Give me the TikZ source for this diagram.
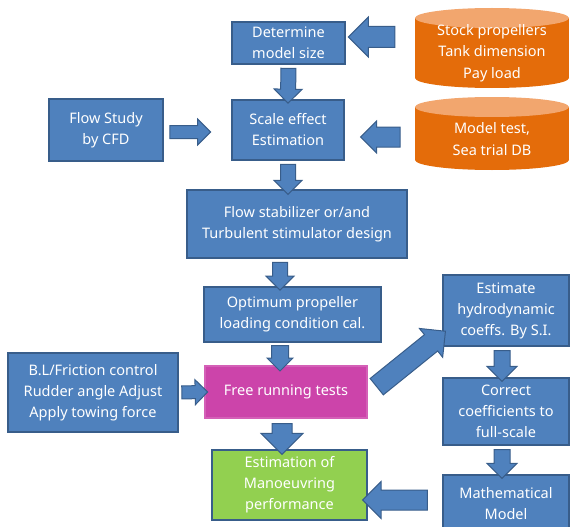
\documentclass[tikz,border=0pt]{standalone}
\usepackage{fontspec}
\setmainfont{Noto Sans}
\usetikzlibrary{positioning,calc,shapes.arrows}
\definecolor{boxblue}{HTML}{4F81BD}
\definecolor{edgeblue}{HTML}{385D8A}
\definecolor{runpink}{HTML}{CC44AA}
\definecolor{resgreen}{HTML}{92D050}
\definecolor{dbbody}{HTML}{E46C0A}
\definecolor{dbtop}{HTML}{F2A66E}

\tikzset{
  box/.style={draw=edgeblue, fill=boxblue, line width=1.2pt, text=white,
    align=center, inner sep=0pt, font=\fontsize{14.5}{21}\selectfont},
  dbtext/.style={text=white, align=center, inner sep=0pt, minimum width=154,
    font=\fontsize{14.5}{21.5}\selectfont},
  fatarrow/.style={single arrow, draw=edgeblue, fill=boxblue, line width=1pt,
    inner sep=7pt, outer sep=0pt,
    single arrow head extend=6.5pt, single arrow head indent=0pt},
}
% block arrow between two points
\newcommand{\fatarrow}[3][]{%
  \path let \p1=(#2), \p2=(#3), \n1={veclen(\x2-\x1,\y2-\y1)},
    \n2={atan2(\y2-\y1,\x2-\x1)} in
    node[fatarrow, #1, minimum height=\n1, rotate=\n2] at ($(\p1)!0.5!(\p2)$) {};}

\begin{document}
\begin{tikzpicture}[x=1pt, y=-1pt]
   \useasboundingbox (0,0) rectangle (570,527);

   % databases
   \fill[dbbody] (415,18) rectangle (569,78);
   \fill[dbbody] (492,78) ellipse [x radius=77, y radius=10];
   \fill[dbtop] (492,18) ellipse [x radius=77, y radius=10];
   \node[dbtext] (stock) at (492,53) {Stock propellers\\Tank dimension\\Pay load};

   \fill[dbbody] (415,107) rectangle (569,160);
   \fill[dbbody] (492,160) ellipse [x radius=77, y radius=10];
   \fill[dbtop] (492,107) ellipse [x radius=77, y radius=10];
   \node[dbtext] (dbase) at (492,139) {Model test,\\Sea trial DB};

   % process boxes
   \node[box, minimum width=113, minimum height=42] (det) at (288.5,43) {Determine\\model size};
   \node[box, minimum width=112, minimum height=60] (scale) at (288,130) {Scale effect\\Estimation};
   \node[box, minimum width=114, minimum height=62] (cfd) at (106,130) {Flow Study\\by CFD};
   \node[box, minimum width=220, minimum height=68] (stab) at (297,224) {Flow stabilizer or/and\\Turbulent stimulator design};
   \node[box, minimum width=177, minimum height=55] (opt) at (292.5,314.5) {Optimum propeller\\loading condition cal.};
   \node[box, fill=runpink, draw=runpink!85!white, minimum width=162, minimum height=52] (free) at (286,392) {Free running tests};
   \node[box, minimum width=170, minimum height=79] (bl) at (93,392.5) {B.L/Friction control\\Rudder angle Adjust\\Apply towing force};
   \node[box, fill=resgreen, minimum width=155, minimum height=70] (est) at (289.5,485) {Estimation of\\Manoeuvring\\performance};
   \node[box, minimum width=126, minimum height=71] (hydro) at (506,310.5) {Estimate\\hydrodynamic\\coeffs. By S.I.};
   \node[box, minimum width=126, minimum height=67] (corr) at (506,411.5) {Correct\\coefficients to\\full-scale};
   \node[box, minimum width=126, minimum height=57] (math) at (506,503.5) {Mathematical\\Model};

   % free ends
   \coordinate (stockout) at (400,37);
   \coordinate (dbout) at (405,137);

   % connectors
   \fatarrow[inner sep=10pt, single arrow head extend=9.5pt]{stockout}{$(det.east)+(8,-6)$}
   \fatarrow[inner sep=9.5pt, single arrow head extend=6pt]{dbout}{$(scale.east)+(21,7)$}
   \fatarrow[inner sep=6pt, single arrow head extend=6.5pt]{$(cfd.east)+(3,2)$}{$(scale.west)+(-24,2)$}
   \fatarrow{det.south}{scale.north}
   \fatarrow{scale.south}{$(scale.south)+(0,30)$}
   \fatarrow{$(stab.south)+(-17,0)$}{$(opt.north)+(-12.5,0)$}
   \fatarrow[inner sep=8pt, single arrow head extend=4.5pt]{$(opt.south)+(-12.5,0)$}{$(free.north)+(-6,0)$}
   \fatarrow[inner sep=6pt, single arrow head extend=6pt]{bl.east}{free.west}
   \fatarrow[inner sep=9.5pt, single arrow head extend=11pt]{$(free.south)+(-4,0)$}{$(est.north)+(-7.5,0)$}
   \fatarrow[inner sep=10pt, single arrow head extend=8pt]{$(free.east)+(5,-2)$}{$(hydro.west)+(-1,24)$}
   \fatarrow[inner sep=7.5pt, single arrow head extend=7pt]{$(hydro.south)+(-4,0)$}{$(corr.north)+(-4,0)$}
   \fatarrow[inner sep=7.5pt, single arrow head extend=7pt]{$(corr.south)+(-4,0)$}{$(math.north)+(-4,0)$}
   \fatarrow[inner sep=9.5pt, single arrow head extend=8.5pt]{$(math.west)+(-10,-3.5)$}{$(est.east)+(0,15)$}
\end{tikzpicture}
\end{document}
